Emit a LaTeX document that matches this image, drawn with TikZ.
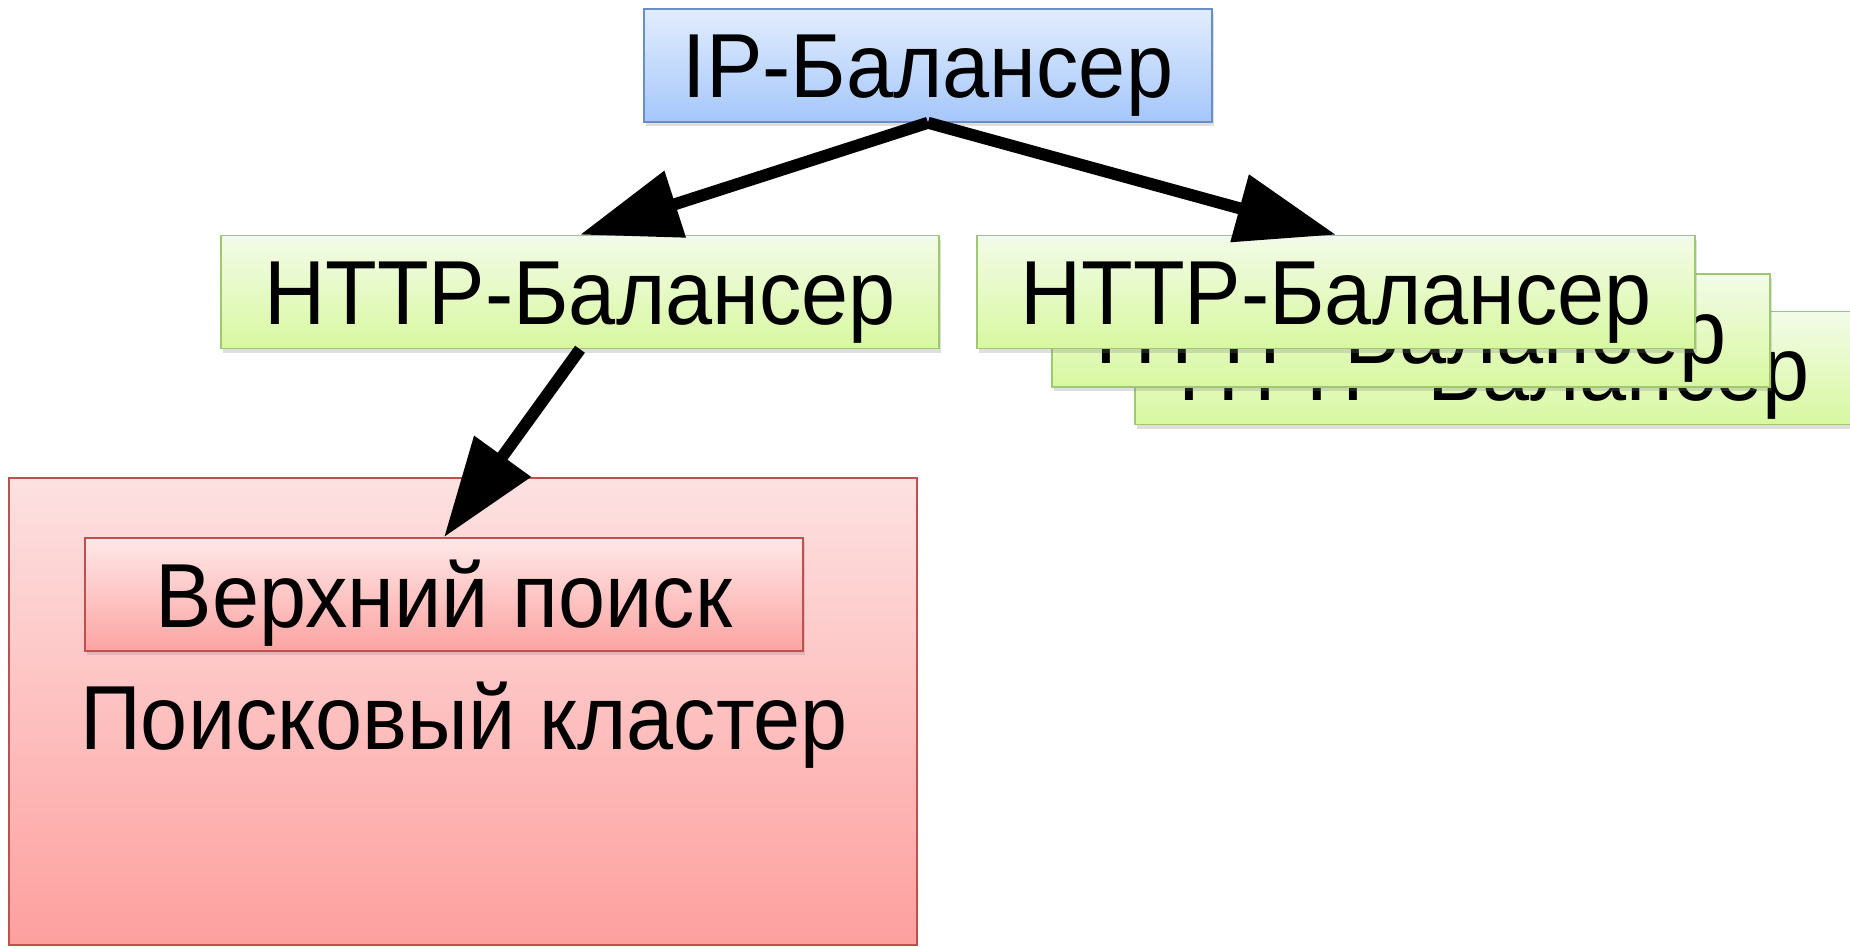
\documentclass[tikz,border=0pt]{standalone}
\usepackage{fontspec}
\setmainfont{Liberation Sans}[FakeStretch=0.93]
\usetikzlibrary{arrows.meta,shadows}
\definecolor{bluebd}{HTML}{6A8FC8}
\definecolor{bluetop}{HTML}{E2EDFD}
\definecolor{bluebot}{HTML}{A5C7FB}
\definecolor{greenbd}{HTML}{A0C870}
\definecolor{greentop}{HTML}{F3FBE8}
\definecolor{greenbot}{HTML}{D8F8A0}
\definecolor{redbd}{HTML}{C0504D}
\definecolor{redtop}{HTML}{FDE1E1}
\definecolor{redbot}{HTML}{FDA09E}
\definecolor{redtop2}{HTML}{FEE8E8}
\definecolor{redbot2}{HTML}{FCA4A2}
\tikzset{
  bigfont/.style={font=\fontsize{91}{100}\selectfont},
  boxbase/.style={rectangle, inner sep=0pt, line width=1.5pt, bigfont,
    text height=65pt, text depth=0pt, minimum width=718pt, minimum height=113pt,
    drop shadow={shadow xshift=1.5pt, shadow yshift=-4pt, opacity=0.25}},
  ipbox/.style={boxbase, draw=bluebd, top color=bluetop, bottom color=bluebot, minimum width=568pt},
  httpbox/.style={boxbase, draw=greenbd, top color=greentop, bottom color=greenbot},
  searchbox/.style={boxbase, draw=redbd, top color=redtop2, bottom color=redbot2},
  clusterbox/.style={rectangle, inner sep=0pt, line width=1.5pt, draw=redbd,
    top color=redtop, bottom color=redbot, minimum width=908pt, minimum height=467pt},
  arr/.style={line width=12pt, -{Triangle[length=100pt,width=67pt]}},
}
\begin{document}
\begin{tikzpicture}[x=1pt,y=1pt]
\useasboundingbox (0,0) rectangle (1850,-947);
\node[clusterbox] (cluster) at (463,-711.5) {};
\node[bigfont, text height=65pt, text depth=0pt, inner sep=0pt] (clusterlabel) at (464,-717) {Поисковый кластер};
\node[searchbox] (top) at (444,-594.5) {Верхний поиск};
\node[ipbox] (ip) at (928,-65.5) {IP-Балансер};
\node[httpbox] (h1) at (580,-292) {HTTP-Балансер};
\node[httpbox] (h4) at (1494,-368) {HTTP-Балансер};
\node[httpbox] (h3) at (1411,-330.5) {HTTP-Балансер};
\node[httpbox] (h2) at (1336,-292) {HTTP-Балансер};
\draw[arr] (ip.south) -- (h1.north);
\draw[arr] (ip.south) -- (h2.north);
\draw[arr] (h1.south) -- (top.north);
\end{tikzpicture}
\end{document}
